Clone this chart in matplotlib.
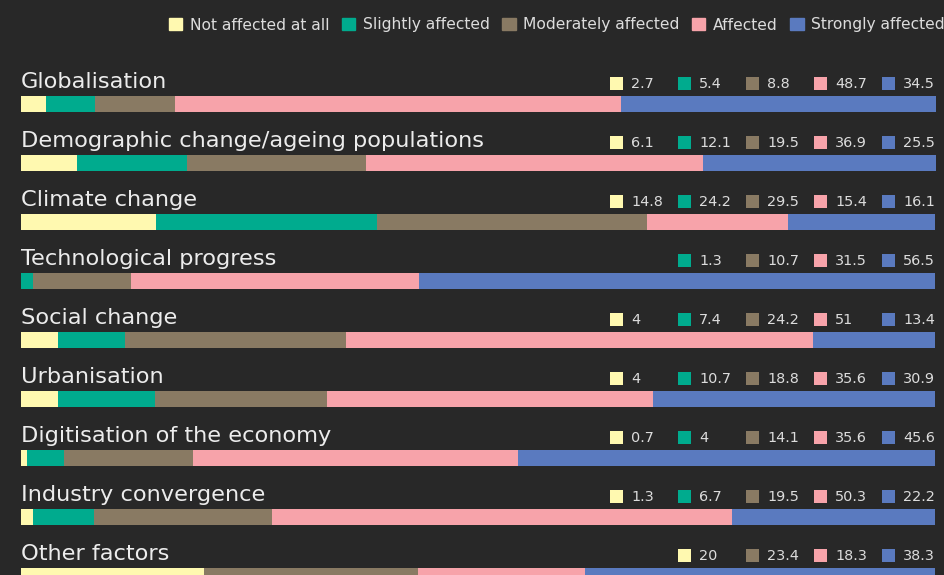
import matplotlib
matplotlib.use("Agg")
import matplotlib.pyplot as plt
from matplotlib.patches import Rectangle

# ---------------- data ----------------
factors = [
    "Globalisation",
    "Demographic change/ageing populations",
    "Climate change",
    "Technological progress",
    "Social change",
    "Urbanisation",
    "Digitisation of the economy",
    "Industry convergence",
    "Other factors",
]
categories = ["Not affected at all", "Slightly affected", "Moderately affected",
              "Affected", "Strongly affected"]

not_affected = [2.7, 6.1, 14.8, 0, 4, 4, 0.7, 1.3, 20]
slightly = [5.4, 12.1, 24.2, 1.3, 7.4, 10.7, 4, 6.7, 0]
moderately = [8.8, 19.5, 29.5, 10.7, 24.2, 18.8, 14.1, 19.5, 23.4]
affected = [48.7, 36.9, 15.4, 31.5, 51, 35.6, 35.6, 50.3, 18.3]
strongly = [34.5, 25.5, 16.1, 56.5, 13.4, 30.9, 45.6, 22.2, 38.3]

colors = ["#fff9b0", "#00ab8e", "#897a63", "#f7a3aa", "#5a7abf"]

# ---------------- layout (pixels of a 945x575 figure) ----------------
W, H = 945, 575
BAR_L, BAR_R = 21, 935          # bar span in px
ROW0, PITCH = 104, 59           # centre of first bar, row pitch (px)
PX = (BAR_R - BAR_L) / 100.0    # px per percent
BG = "#282828"
TXT = "#ececec"

fig = plt.figure(figsize=(W / 100, H / 100), dpi=100, facecolor=BG)
ax = fig.add_axes([0, 0, 1, 1])
ax.set_facecolor(BG)
ax.set_xlim(-BAR_L / PX, (W - BAR_L) / PX)
ax.set_ylim((H - ROW0) / PITCH, -ROW0 / PITCH)
ax.axis("off")

series = [not_affected, slightly, moderately, affected, strongly]
rows = list(range(len(factors)))

# stacked bars
left = [0.0] * len(factors)
for vals, col in zip(series, colors):
    ax.barh(rows, vals, left=left, height=16.5 / PITCH, color=col, linewidth=0)
    left = [l + v for l, v in zip(left, vals)]

# titles + value labels
slot_sq = [609, 677, 745, 813, 881]   # left edge of value squares (px)
for i, name in enumerate(factors):
    ax.text(0, i - 16 / PITCH, name, ha="left", va="baseline",
            fontsize=16.2, color=TXT)

    # zero values get no label, the rest are packed to the right
    items = [(v[i], c) for v, c in zip(series, colors) if v[i] > 0]
    slots = slot_sq[len(slot_sq) - len(items):]
    for (val, col), sx in zip(items, slots):
        ax.scatter((sx + 6.5 - BAR_L) / PX, i - 21 / PITCH, marker="s",
                   s=(13 * 0.72) ** 2, color=col, linewidths=0)
        ax.text((sx + 22 - BAR_L) / PX, i - 16 / PITCH, f"{val:g}",
                ha="left", va="baseline", fontsize=10.4, color="#dcdcdc")

# legend at top
handles = [Rectangle((0, 0), 1, 1, color=c) for c in colors]
fig.legend(handles, categories, loc="center right",
           bbox_to_anchor=(1.0, 1 - 25 / H), ncol=5, frameon=False,
           fontsize=11.2, labelcolor="#dcdcdc",
           handlelength=0.85, handleheight=0.85, handletextpad=0.5,
           columnspacing=0.8, borderaxespad=0, borderpad=0)

fig.savefig("out.png", dpi=100, facecolor=BG)
